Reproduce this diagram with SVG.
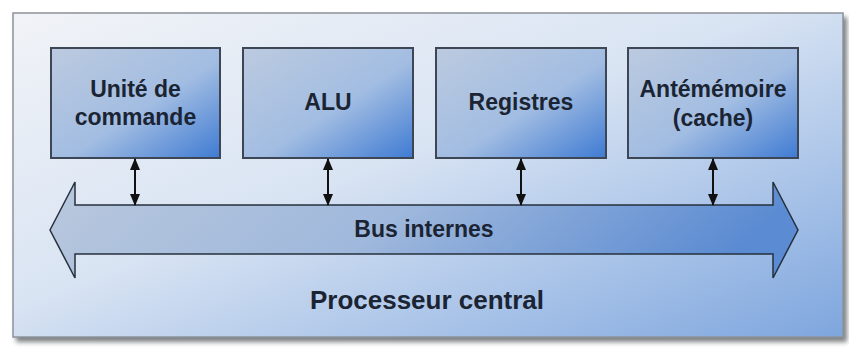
<svg xmlns="http://www.w3.org/2000/svg" width="849" height="350" viewBox="0 0 849 350">
  <defs>
    <linearGradient id="gOuter" x1="0" y1="0" x2="1" y2="1">
      <stop offset="0" stop-color="#f1f3f7"/>
      <stop offset="0.45" stop-color="#d9e4f3"/>
      <stop offset="1" stop-color="#7ea6de"/>
    </linearGradient>
    <linearGradient id="gBox" x1="0" y1="0" x2="1" y2="1">
      <stop offset="0" stop-color="#bccadf"/>
      <stop offset="0.55" stop-color="#a2bde2"/>
      <stop offset="1" stop-color="#3f7bd3"/>
    </linearGradient>
    <linearGradient id="gBus" x1="0" y1="0" x2="1" y2="0.15">
      <stop offset="0" stop-color="#b9c8dd"/>
      <stop offset="0.5" stop-color="#9fb8dc"/>
      <stop offset="1" stop-color="#5b8bd2"/>
    </linearGradient>
    <filter id="shadow" x="-5%" y="-5%" width="110%" height="115%">
      <feGaussianBlur stdDeviation="2.5"/>
    </filter>
    <marker id="ah" viewBox="0 0 12 10" refX="11" refY="5" markerWidth="12" markerHeight="10" markerUnits="userSpaceOnUse" orient="auto-start-reverse">
      <path d="M0,0 L12,5 L0,10 z" fill="#111"/>
    </marker>
    <style>
      .box { fill: url(#gBox); stroke: #3c4654; stroke-width: 2; }
      .lbl { font-family: "Liberation Sans", Arial, sans-serif; font-weight: bold; fill: #1b2433; text-anchor: middle; }
      .conn { stroke: #111; stroke-width: 2; fill: none; marker-start: url(#ah); marker-end: url(#ah); }
    </style>
  </defs>

  <rect width="849" height="350" fill="#ffffff"/>

  <g id="processeur">
    <rect x="16" y="17" width="831" height="325" fill="#5a5e64" filter="url(#shadow)" opacity="0.8"/>
    <rect x="13" y="13" width="830" height="324" fill="url(#gOuter)" stroke="#8d939b" stroke-width="1.5"/>
    <text class="lbl" x="427" y="309" font-size="26">Processeur central</text>
  </g>

  <g id="unite">
    <rect class="box" x="51" y="48" width="169" height="110"/>
    <text class="lbl" x="135.5" y="97" font-size="23">Unité de</text>
    <text class="lbl" x="135.5" y="125" font-size="23">commande</text>
  </g>

  <g id="alu">
    <rect class="box" x="243" y="48" width="170" height="110"/>
    <text class="lbl" x="328" y="110" font-size="23">ALU</text>
  </g>

  <g id="registres">
    <rect class="box" x="436" y="48" width="170" height="110"/>
    <text class="lbl" x="521" y="110" font-size="23">Registres</text>
  </g>

  <g id="cache">
    <rect class="box" x="628" y="48" width="170" height="110"/>
    <text class="lbl" x="713" y="97" font-size="23">Antémémoire</text>
    <text class="lbl" x="713" y="126" font-size="23">(cache)</text>
  </g>

  <g id="bus">
    <polygon points="50,230 75,182 75,205 773,205 773,182 798,230 773,278 773,254 75,254 75,278" fill="url(#gBus)" stroke="#26303c" stroke-width="1.5" stroke-linejoin="miter"/>
    <text class="lbl" x="424" y="237" font-size="23">Bus internes</text>
  </g>

  <g id="connectors">
    <line class="conn" x1="135" y1="159" x2="135" y2="205"/>
    <line class="conn" x1="328" y1="159" x2="328" y2="205"/>
    <line class="conn" x1="521" y1="159" x2="521" y2="205"/>
    <line class="conn" x1="713" y1="159" x2="713" y2="205"/>
  </g>
</svg>
